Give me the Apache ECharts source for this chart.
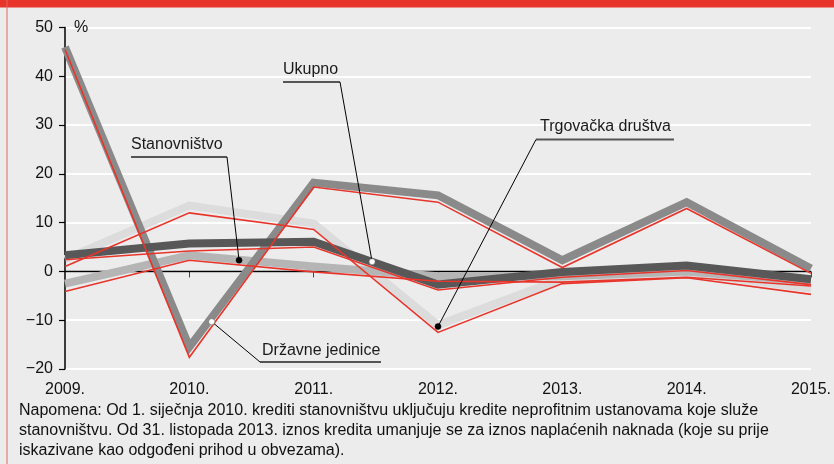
<!DOCTYPE html>
<html>
<head>
<meta charset="utf-8">
<script src="https://cdn.jsdelivr.net/npm/echarts@6/dist/echarts.min.js"></script>
<style>
  html, body { margin: 0; padding: 0; background: #ececec; }
  #chart { width: 834px; height: 464px; }
</style>
</head>
<body>
<div id="chart"></div>
<script>
// godine na osi x
var years = [2009, 2010, 2011, 2012, 2013, 2014, 2015];

// debele sive linije
var drzavne      = [46.0, -15.5, 18.2, 15.6, 2.3, 14.2, 0.6];
var ukupno       = [3.3, 5.7, 6.1, -2.7, -0.1, 1.2, -1.6];
var stanovnistvo = [-2.5, 3.3, 1.0, -1.0, -1.0, 0.0, -2.0];
var trgovacka    = [2.5, 13.5, 9.8, -11.0, -1.5, -0.3, -3.5];

// tanke crvene linije
var drzavneRed      = [45.5, -17.6, 17.3, 14.2, 0.8, 12.9, -0.4];
var ukupnoRed       = [2.4, 4.2, 5.0, -3.8, -1.2, 0.2, -2.7];
var stanovnistvoRed = [-4.1, 2.3, -0.1, -2.0, -2.2, -1.2, -3.0];
var trgovackaRed    = [1.0, 12.0, 8.6, -12.5, -2.5, -1.3, -4.7];

var noteLines = [
  'Napomena: Od 1. siječnja 2010. krediti stanovništvu uključuju kredite neprofitnim ustanovama koje služe',
  'stanovništvu. Od 31. listopada 2013. iznos kredita umanjuje se za iznos naplaćenih naknada (koje su prije',
  'iskazivane kao odgođeni prihod u obvezama).'
];

var RED = '#e8352b';
var FONT = '"Liberation Sans", Arial, sans-serif';

function pairs(vals) {
  return years.map(function (y, i) { return [y, vals[i]]; });
}

function thick(name, vals, color) {
  return {
    name: name, type: 'line', data: pairs(vals), symbol: 'none', z: 2,
    lineStyle: { width: 8, color: color, join: 'miter' }
  };
}

function thin(name, vals) {
  return {
    name: name, type: 'line', data: pairs(vals), symbol: 'none', z: 3,
    lineStyle: { width: 1.6, color: RED, join: 'miter' }
  };
}

var chart = echarts.init(document.getElementById('chart'));

chart.setOption({
  animation: false,
  backgroundColor: '#ececec',
  grid: { left: 65, right: 18, top: 27.5, bottom: 95 },
  xAxis: {
    type: 'value', min: 2009, max: 2015, interval: 1, offset: 3,
    axisLine: { show: false },
    axisTick: { show: true, length: 6, lineStyle: { color: '#444', width: 1 } },
    splitLine: { show: false },
    axisLabel: {
      margin: 10, color: '#111', fontSize: 16, fontFamily: FONT,
      formatter: function (v) { return v + '.'; }
    }
  },
  yAxis: {
    type: 'value', min: -20, max: 50, interval: 10,
    axisLine: { show: true, lineStyle: { color: '#000', width: 1.5 } },
    axisTick: { show: true, length: 6, lineStyle: { color: '#000', width: 1.2 } },
    splitLine: { show: true, lineStyle: { color: '#fff', width: 2 } },
    axisLabel: {
      margin: 12, color: '#111', fontSize: 16, fontFamily: FONT,
      formatter: function (v) { return v < 0 ? '\u2212' + Math.abs(v) : String(v); }
    }
  },
  series: [
    {
      name: 'nula', type: 'line', data: [[2009, 0], [2015, 0]], symbol: 'none', z: 1,
      lineStyle: { width: 1.5, color: '#000' }
    },
    thick('Trgovačka društva', trgovacka, '#dcdcdc'),
    thick('Stanovništvo', stanovnistvo, '#b5b5b5'),
    thick('Državne jedinice', drzavne, '#8a8a8a'),
    thick('Ukupno', ukupno, '#585858'),
    thin('Trgovačka društva (c)', trgovackaRed),
    thin('Stanovništvo (c)', stanovnistvoRed),
    thin('Državne jedinice (c)', drzavneRed),
    thin('Ukupno (c)', ukupnoRed)
  ]
});

// oznake serija: tekst, podcrta, kraj podcrte s kojeg ide crta, točka na liniji
var labels = [
  { text: 'Ukupno', x: 283, y: 70, ux1: 283, ux2: 340, uy: 82, from: 340, at: [2011.47, 2.0], fill: '#fff' },
  { text: 'Trgovačka društva', x: 540, y: 127, ux1: 536, ux2: 674, uy: 139.5, from: 536, at: [2012.0, -11.3], fill: '#000' },
  { text: 'Stanovništvo', x: 131, y: 144.5, ux1: 131, ux2: 227, uy: 157, from: 227, at: [2010.4, 2.3], fill: '#000' },
  { text: 'Državne jedinice', x: 262, y: 351, ux1: 260, ux2: 381, uy: 362, from: 260, at: [2010.18, -10.3], fill: '#fff' }
];

var g = [];
// crveni okvir
g.push({ type: 'rect', shape: { x: 0, y: 0, width: 834, height: 7.5 }, style: { fill: RED }, z: 100 });
g.push({ type: 'line', shape: { x1: 7, y1: 0, x2: 7, y2: 464 }, style: { stroke: '#e0665c', lineWidth: 1 }, z: 100 });
// znak %
g.push({ type: 'text', x: 74, y: 28, style: { text: '%', font: '16px ' + FONT, fill: '#111', verticalAlign: 'middle' }, z: 100 });

labels.forEach(function (l) {
  var p = chart.convertToPixel({ gridIndex: 0 }, l.at);
  g.push({ type: 'text', x: l.x, y: l.y, style: { text: l.text, font: '16px ' + FONT, fill: '#1a1a1a', verticalAlign: 'middle' }, z: 100 });
  g.push({ type: 'line', shape: { x1: l.ux1, y1: l.uy, x2: l.ux2, y2: l.uy }, style: { stroke: '#555', lineWidth: 2 }, z: 100 });
  g.push({ type: 'line', shape: { x1: l.from, y1: l.uy, x2: p[0], y2: p[1] }, style: { stroke: '#000', lineWidth: 1 }, z: 100 });
  g.push({ type: 'circle', shape: { cx: p[0], cy: p[1], r: 3 }, style: { fill: l.fill, stroke: l.fill === '#fff' ? '#666' : '#000', lineWidth: 0.5 }, z: 101 });
});

// napomena
noteLines.forEach(function (t, i) {
  g.push({ type: 'text', x: 19, y: 411 + i * 20, style: { text: t, font: '16px ' + FONT, fill: '#111', verticalAlign: 'middle' }, z: 100 });
});

chart.setOption({ graphic: g });
</script>
</body>
</html>
